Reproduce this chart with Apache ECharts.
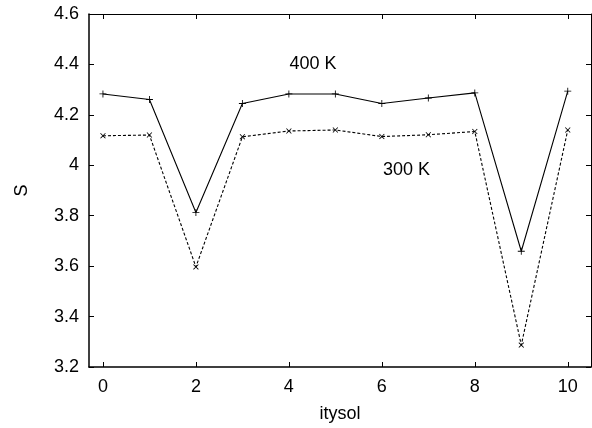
<!DOCTYPE html>
<html>
<head>
<meta charset="utf-8">
<script src="https://cdn.jsdelivr.net/npm/echarts@6/dist/echarts.min.js"></script>
<style>
  html, body { margin: 0; padding: 0; background: #fff; }
  #chart { width: 592px; height: 428px; }
</style>
</head>
<body>
<div id="chart"></div>
<script>
var itysol = [0, 1, 2, 3, 4, 5, 6, 7, 8, 9, 10];
var s400 = [4.283, 4.261, 3.813, 4.245, 4.283, 4.283, 4.245, 4.267, 4.287, 3.659, 4.294];
var s300 = [4.117, 4.120, 3.597, 4.113, 4.136, 4.140, 4.114, 4.121, 4.134, 3.287, 4.140];
var xTicks = [0, 2, 4, 6, 8, 10];
var yTicks = [3.2, 3.4, 3.6, 3.8, 4, 4.2, 4.4, 4.6];

var plus = 'path://M4.4,0H5.6V4.4H10V5.6H5.6V10H4.4V5.6H0V4.4H4.4Z';
var font = 'Liberation Sans, Arial, Helvetica, sans-serif';
var fsize = 18;

function pairs(ys) {
	var out = [];
	for (var i = 0; i < itysol.length; i++) {
		out.push([itysol[i], ys[i]]);
	}
	return out;
}

function xAxisOpt(pos, labels) {
	return {
		type: 'value',
		position: pos,
		min: -0.3,
		max: 10.5,
		splitLine: { show: false },
		axisLine: { show: true, onZero: false, lineStyle: { color: '#000', width: pos == 'bottom' ? 1.5 : 1 } },
		axisTick: { show: true, inside: true, length: 5, customValues: xTicks, lineStyle: { color: '#000' } },
		axisLabel: { show: labels, customValues: xTicks, margin: 11, color: '#000', fontSize: fsize, fontFamily: font },
		name: labels ? 'itysol' : '',
		nameLocation: 'middle',
		nameGap: 38,
		nameTextStyle: { color: '#000', fontSize: fsize, fontFamily: font }
	};
}

function yAxisOpt(pos, labels) {
	return {
		type: 'value',
		position: pos,
		min: 3.2,
		max: 4.6,
		splitLine: { show: false },
		axisLine: { show: true, onZero: false, lineStyle: { color: '#000', width: pos == 'left' ? 1.5 : 1 } },
		axisTick: { show: true, inside: true, length: 5, customValues: yTicks, lineStyle: { color: '#000' } },
		axisLabel: {
			show: labels, customValues: yTicks, margin: 10, color: '#000', fontSize: fsize, fontFamily: font,
			formatter: function(v) { return String(Math.round(v * 10) / 10); }
		},
		name: labels ? 'S' : '',
		nameLocation: 'middle',
		nameGap: 58,
		nameTextStyle: { color: '#000', fontSize: fsize, fontFamily: font }
	};
}

// text labels for the two curves, placed in data coords
function tempLabel(text, x, y) {
	return {
		symbol: 'circle',
		symbolSize: 1,
		itemStyle: { color: 'rgba(0,0,0,0)' },
		data: [{ coord: [x, y] }],
		label: { show: true, position: 'inside', formatter: text, color: '#000', fontSize: fsize, fontFamily: font }
	};
}

var chart = echarts.init(document.getElementById('chart'));
chart.setOption({
	animation: false,
	backgroundColor: '#fff',
	grid: { left: 89, right: 1, top: 14, bottom: 60 },
	xAxis: [xAxisOpt('bottom', true), xAxisOpt('top', false)],
	yAxis: [yAxisOpt('left', true), yAxisOpt('right', false)],
	series: [{
		name: '400 K',
		type: 'line',
		data: pairs(s400),
		symbol: plus,
		symbolSize: 7,
		showSymbol: true,
		itemStyle: { color: '#000' },
		lineStyle: { color: '#000', width: 1.1 },
		markPoint: tempLabel('400 K', 4.52, 4.4)
	}, {
		name: '300 K',
		type: 'line',
		data: pairs(s300),
		symbol: plus,
		symbolRotate: 45,
		symbolSize: 7,
		showSymbol: true,
		itemStyle: { color: '#000' },
		lineStyle: { color: '#000', width: 1.1, type: [3, 2] },
		markPoint: tempLabel('300 K', 6.53, 3.98)
	}]
});
</script>
</body>
</html>
